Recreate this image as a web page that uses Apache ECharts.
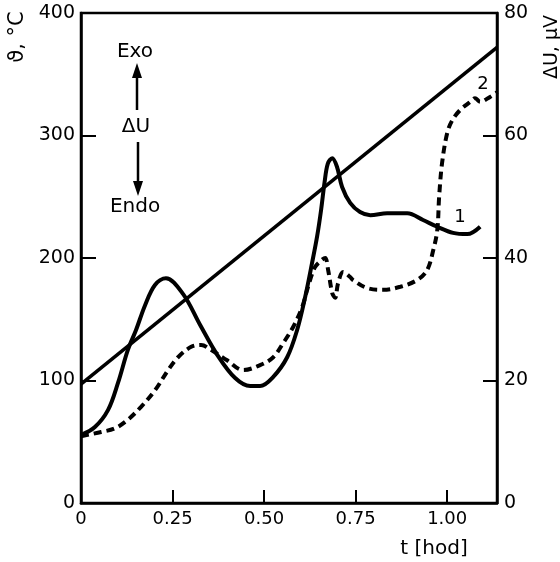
<!DOCTYPE html>
<html>
<head>
<meta charset="utf-8">
<script src="https://cdn.jsdelivr.net/npm/echarts@6/dist/echarts.min.js"></script>
<style>html,body{margin:0;padding:0;background:#fff}#c{width:560px;height:562px}</style>
</head>
<body>
<div id="c"></div>
<script>
// time axis ticks [hod]
const xTickValues = [0, 0.25, 0.5, 0.75, 1.0];
const xTickLabels = ['0', '0.25', '0.50', '0.75', '1.00'];
// temperature (left axis, °C)
const temperatureLine = [[0, 97], [1.136, 372]];
// curve 1 (solid), ΔU in µV (right axis)
const curve1 = [
  [0, 11.1], [0.038, 12.4], [0.074, 15.2], [0.101, 19.6], [0.128, 25.0], [0.150, 28.2],
  [0.175, 32.3], [0.202, 35.6], [0.232, 36.7], [0.279, 34.1], [0.325, 29.1], [0.372, 24.2],
  [0.421, 20.4], [0.462, 19.1], [0.489, 19.1], [0.525, 20.6], [0.563, 23.8], [0.590, 28.2],
  [0.612, 33.6], [0.631, 39.2], [0.645, 43.6], [0.656, 48.0], [0.665, 52.3], [0.674, 55.4],
  [0.686, 56.3], [0.699, 54.9], [0.713, 51.6], [0.735, 49.0], [0.762, 47.5], [0.790, 47.0],
  [0.836, 47.3], [0.891, 47.3], [0.934, 46.2], [0.973, 45.1], [1.016, 44.1], [1.055, 43.9],
  [1.090, 45.1]
];
// curve 2 (dashed), ΔU in µV (right axis)
const curve2 = [
  [0, 10.9], [0.055, 11.6], [0.093, 12.2], [0.128, 13.6], [0.164, 15.7], [0.202, 18.4],
  [0.238, 21.7], [0.265, 23.8], [0.301, 25.5], [0.328, 25.8], [0.355, 25.0], [0.399, 23.3],
  [0.443, 21.7], [0.489, 22.5], [0.525, 23.8], [0.552, 26.1], [0.579, 28.7], [0.604, 32.0],
  [0.620, 35.3], [0.639, 38.5], [0.658, 39.7], [0.667, 40.0], [0.675, 38.0], [0.686, 34.3],
  [0.694, 33.5], [0.702, 35.9], [0.716, 37.7], [0.735, 36.9], [0.743, 36.4], [0.781, 35.1],
  [0.825, 34.8], [0.872, 35.3], [0.918, 36.4], [0.945, 38.0], [0.962, 41.3], [0.973, 44.6],
  [0.978, 50.0], [0.986, 55.5], [1.000, 60.4], [1.014, 62.5], [1.036, 64.2], [1.063, 65.5],
  [1.076, 66.1], [1.090, 65.5], [1.117, 66.3], [1.137, 67.1]
];
const curveLabels = [{name: '1', coord: [1.035, 46.7]}, {name: '2', coord: [1.098, 68.4]}];

const FONT = 'DejaVu Sans';
const chart = echarts.init(document.getElementById('c'), null, {renderer: 'canvas'});
const axisLineStyle = {color: '#000', width: 2.5};
chart.setOption({
  animation: false,
  backgroundColor: '#fff',
  grid: {left: 81, right: 63, top: 13, bottom: 59, show: true, borderColor: '#000', borderWidth: 2.5, backgroundColor: 'transparent'},
  xAxis: {
    type: 'value', min: 0, max: 1.136, interval: 0.25,
    axisLine: {show: true, lineStyle: axisLineStyle},
    axisTick: {show: true, inside: true, length: 13, lineStyle: {color: '#000', width: 2}},
    splitLine: {show: false},
    axisLabel: {
      color: '#000', fontFamily: FONT, fontSize: 18, margin: 7,
      formatter: function (v) {
        for (let i = 0; i < xTickValues.length; i++) if (Math.abs(v - xTickValues[i]) < 1e-6) return xTickLabels[i];
        return '';
      }
    }
  },
  yAxis: [
    {
      type: 'value', min: 0, max: 400, interval: 100, position: 'left',
      axisLine: {show: true, lineStyle: axisLineStyle},
      axisTick: {show: true, inside: true, length: 15, lineStyle: {color: '#000', width: 2}},
      splitLine: {show: false},
      axisLabel: {color: '#000', fontFamily: FONT, fontSize: 19, margin: 6}
    },
    {
      type: 'value', min: 0, max: 80, interval: 20, position: 'right',
      axisLine: {show: true, lineStyle: axisLineStyle},
      axisTick: {show: true, inside: true, length: 14, lineStyle: {color: '#000', width: 2}},
      splitLine: {show: false},
      axisLabel: {color: '#000', fontFamily: FONT, fontSize: 19, margin: 7}
    }
  ],
  series: [
    {
      type: 'line', yAxisIndex: 0, data: temperatureLine, symbol: 'none',
      lineStyle: {color: '#000', width: 3.5}
    },
    {
      type: 'line', yAxisIndex: 1, data: curve1, symbol: 'none', smooth: 0.35,
      lineStyle: {color: '#000', width: 4},
      markPoint: {
        symbol: 'circle', symbolSize: 0,
        label: {show: true, color: '#000', fontFamily: FONT, fontSize: 18, formatter: '{b}'},
        data: [curveLabels[0]]
      }
    },
    {
      type: 'line', yAxisIndex: 1, data: curve2, symbol: 'none', smooth: 0.35,
      lineStyle: {color: '#000', width: 4, type: [8, 5]},
      markPoint: {
        symbol: 'circle', symbolSize: 0,
        label: {show: true, color: '#000', fontFamily: FONT, fontSize: 18, formatter: '{b}'},
        data: [curveLabels[1]]
      }
    }
  ],
  graphic: [
    {type: 'text', x: 18, y: 37, rotation: Math.PI / 2,
      style: {text: 'ϑ, °C', fontFamily: FONT, fontSize: 21, fill: '#000', align: 'center', verticalAlign: 'middle'}},
    {type: 'text', x: 552, y: 47, rotation: Math.PI / 2,
      style: {text: 'ΔU, µV', fontFamily: FONT, fontSize: 19, fill: '#000', align: 'center', verticalAlign: 'middle'}},
    {type: 'text', x: 434, y: 549,
      style: {text: 't [hod]', fontFamily: FONT, fontSize: 20, fill: '#000', align: 'center', verticalAlign: 'middle'}},
    {type: 'text', x: 135, y: 52,
      style: {text: 'Exo', fontFamily: FONT, fontSize: 20, fill: '#000', align: 'center', verticalAlign: 'middle'}},
    {type: 'text', x: 136, y: 127,
      style: {text: 'ΔU', fontFamily: FONT, fontSize: 20, fill: '#000', align: 'center', verticalAlign: 'middle'}},
    {type: 'text', x: 135, y: 207,
      style: {text: 'Endo', fontFamily: FONT, fontSize: 20, fill: '#000', align: 'center', verticalAlign: 'middle'}},
    {type: 'line', shape: {x1: 137, y1: 110, x2: 137, y2: 74}, style: {stroke: '#000', lineWidth: 2.5}},
    {type: 'polygon', shape: {points: [[137, 63], [132, 78], [142, 78]]}, style: {fill: '#000'}},
    {type: 'line', shape: {x1: 138, y1: 142, x2: 138, y2: 184}, style: {stroke: '#000', lineWidth: 2.5}},
    {type: 'polygon', shape: {points: [[138, 196], [133, 181], [143, 181]]}, style: {fill: '#000'}}
  ]
});
</script>
</body>
</html>
